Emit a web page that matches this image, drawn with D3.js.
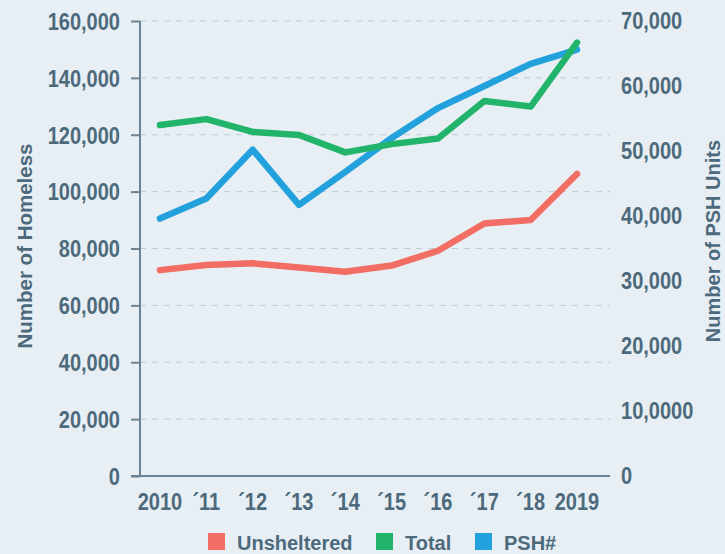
<!DOCTYPE html>
<html>
<head>
<meta charset="utf-8">
<script src="https://cdn.jsdelivr.net/npm/d3@7"></script>
<style>
  body { margin: 0; background: #e7eff5; }
  svg { display: block; }
  text { font-family: "Liberation Sans", Arial, sans-serif; font-weight: bold; fill: #4d6a7c; }
</style>
</head>
<body>
<div id="chart"></div>
<script>
// data
const years = ["2010", "\u00b411", "\u00b412", "\u00b413", "\u00b414", "\u00b415", "\u00b416", "\u00b417", "\u00b418", "2019"];
const unsheltered = [72400, 74200, 74800, 73300, 71800, 74000, 79200, 88800, 90000, 106200];
const total = [123400, 125500, 121000, 119900, 113800, 116700, 118700, 131900, 129900, 152400];
const psh = [39600, 42700, 50200, 41700, 46800, 52000, 56600, 60000, 63400, 65600];
const leftTicks = [0, 20000, 40000, 60000, 80000, 100000, 120000, 140000, 160000];
const rightTicks = [0, 10000, 20000, 30000, 40000, 50000, 60000, 70000];
const rightLabels = ["0", "10,0000", "20,000", "30,000", "40,000", "50,000", "60,000", "70,000"];

const width = 725, height = 554;
const margin = {top: 21, right: 115, bottom: 78, left: 140};

let svg = d3.select("#chart").append("svg")
    .attr("width", width)
    .attr("height", height);

let yLeft = d3.scaleLinear().domain([0, 160000]).range([height - margin.bottom, margin.top]);
let yRight = d3.scaleLinear().domain([0, 70000]).range([height - margin.bottom, margin.top]);
let x = d3.scalePoint().domain(years).range([160, 577]);

// squeeze text a bit so it looks condensed like the original
function condense(sel, k) {
    sel.each(function() {
        let len = this.getComputedTextLength();
        d3.select(this).attr("textLength", len * k).attr("lengthAdjust", "spacingAndGlyphs");
    });
}

// grid lines
svg.append("g")
    .selectAll("line")
    .data(leftTicks.filter(d => d > 0))
    .enter().append("line")
    .attr("x1", margin.left)
    .attr("x2", width - margin.right)
    .attr("y1", d => yLeft(d))
    .attr("y2", d => yLeft(d))
    .style("stroke", "#bfcad3")
    .style("stroke-width", 1)
    .style("stroke-dasharray", "6,6");

// left axis
let yAxisL = d3.axisLeft(yLeft).tickValues(leftTicks).tickSize(9).tickPadding(11).tickFormat(d3.format(","));
let gL = svg.append("g")
    .attr("transform", "translate(" + margin.left + ",0)")
    .call(yAxisL);
gL.selectAll("line, path").style("stroke", "#6b8393").style("stroke-width", 2);
gL.select(".domain").attr("d", "M0," + yLeft(160000) + "V" + yLeft(0));
gL.selectAll("text")
    .attr("font-family", null).attr("font-size", null)
    .style("font-size", "23px").style("fill", "#4d6a7c").attr("dy", "0.36em")
    .call(condense, 0.87);

// bottom axis line
svg.append("line")
    .attr("x1", margin.left - 9)
    .attr("x2", width - margin.right)
    .attr("y1", yLeft(0))
    .attr("y2", yLeft(0))
    .style("stroke", "#6b8393")
    .style("stroke-width", 2);

// right axis: labels only
svg.append("g")
    .selectAll("text")
    .data(rightTicks)
    .enter().append("text")
    .attr("x", 621)
    .attr("y", d => yRight(d))
    .attr("dy", "0.36em")
    .style("font-size", "23px")
    .text((d, i) => rightLabels[i])
    .call(condense, 0.87);

// x labels
svg.append("g")
    .selectAll("text")
    .data(years)
    .enter().append("text")
    .attr("x", d => x(d))
    .attr("y", 510)
    .attr("text-anchor", "middle")
    .style("font-size", "23px")
    .text(d => d)
    .call(condense, 0.87);

// axis titles
svg.append("text")
    .attr("transform", "translate(32,246) rotate(-90)")
    .attr("text-anchor", "middle")
    .style("font-size", "20.5px")
    .text("Number of Homeless");

svg.append("text")
    .attr("transform", "translate(720,241) rotate(-90)")
    .attr("text-anchor", "middle")
    .style("font-size", "20px")
    .text("Number of PSH Units");

// lines
let series = [
    {name: "Unsheltered", values: unsheltered, scale: yLeft, color: "#f26d63"},
    {name: "PSH#", values: psh, scale: yRight, color: "#22a1dc"},
    {name: "Total", values: total, scale: yLeft, color: "#21b46a"}
];

series.forEach(s => {
    let line = d3.line()
        .x((d, i) => x(years[i]))
        .y(d => s.scale(d));
    svg.append("path")
        .datum(s.values)
        .attr("d", line)
        .style("fill", "none")
        .style("stroke", s.color)
        .style("stroke-width", 6.5)
        .style("stroke-linejoin", "round")
        .style("stroke-linecap", "round");
});

// legend
let legendItems = [
    {name: "Unsheltered", color: "#f26d63", x: 208},
    {name: "Total", color: "#21b46a", x: 376},
    {name: "PSH#", color: "#22a1dc", x: 475}
];
let legend = svg.append("g").selectAll("g").data(legendItems).enter().append("g")
    .attr("transform", d => "translate(" + d.x + ",533)");
legend.append("rect")
    .attr("width", 17).attr("height", 17)
    .style("fill", d => d.color);
legend.append("text")
    .attr("x", 29)
    .attr("y", 17)
    .style("font-size", "20px")
    .text(d => d.name);
</script>
</body>
</html>
